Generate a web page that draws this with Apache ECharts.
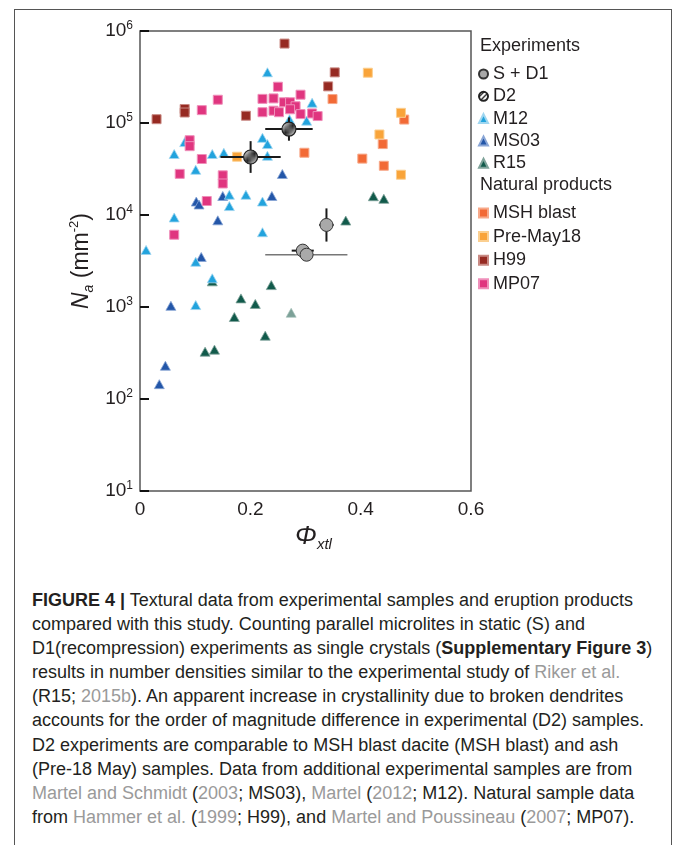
<!DOCTYPE html>
<html>
<head>
<meta charset="utf-8">
<script src="https://cdn.jsdelivr.net/npm/echarts@6/dist/echarts.min.js"></script>
<style>
  html, body { margin: 0; padding: 0; background: #fff; }
  body { width: 673px; height: 845px; position: relative; overflow: hidden; font-family: "Liberation Sans", Arial, sans-serif; }
  #frame { position: absolute; left: 14px; top: 9px; width: 658px; height: 900px; border: 1.5px solid #555; box-sizing: border-box; }
  #chart { position: absolute; left: 0; top: 0; width: 673px; height: 570px; }
  #caption { position: absolute; left: 32px; top: 588px; font-size: 18px; line-height: 24.1px; color: #231f20; white-space: nowrap; }
  #caption b { font-weight: bold; }
  #caption .ref { color: #9a9a9a; }
</style>
</head>
<body>
<div id="frame"></div>
<div id="chart"></div>
<div id="caption">
<div><b>FIGURE 4 |</b> Textural data from experimental samples and eruption products</div>
<div>compared with this study. Counting parallel microlites in static (S) and</div>
<div>D1(recompression) experiments as single crystals (<b>Supplementary Figure 3</b>)</div>
<div>results in number densities similar to the experimental study of <span class="ref">Riker et al.</span></div>
<div>(R15; <span class="ref">2015b</span>). An apparent increase in crystallinity due to broken dendrites</div>
<div>accounts for the order of magnitude difference in experimental (D2) samples.</div>
<div>D2 experiments are comparable to MSH blast dacite (MSH blast) and ash</div>
<div>(Pre-18 May) samples. Data from additional experimental samples are from</div>
<div><span class="ref">Martel and Schmidt</span> (<span class="ref">2003</span>; MS03), <span class="ref">Martel</span> (<span class="ref">2012</span>; M12). Natural sample data</div>
<div>from <span class="ref">Hammer et al.</span> (<span class="ref">1999</span>; H99), and <span class="ref">Martel and Poussineau</span> (<span class="ref">2007</span>; MP07).</div>
</div>
<script>
// crystallinity (x) vs number density N_a in mm^-2 (y)
const sd1 = [[0.338, 7.8e3], [0.295, 4.1e3], [0.302, 3.7e3]]
const d2 = [[0.270, 8.6e4], [0.2005, 4.27e4]]
const m12 = [[0.231, 3.56e5], [0.312, 1.66e5], [0.302, 1.06e5], [0.271, 1.1e5], [0.081, 6.2e4],
  [0.062, 4.6e4], [0.131, 4.6e4], [0.152, 4.74e4], [0.101, 3.1e4], [0.222, 6.9e4], [0.231, 5.9e4],
  [0.231, 4.4e4], [0.162, 1.66e4], [0.192, 1.66e4], [0.222, 1.4e4], [0.162, 1.25e4], [0.062, 9.4e3],
  [0.222, 6.5e3], [0.011, 4.17e3], [0.101, 3.1e3], [0.131, 2.05e3], [0.101, 1.05e3]]
const ms03 = [[0.258, 2.79e4], [0.102, 1.4e4], [0.107, 1.3e4], [0.150, 1.61e4], [0.239, 1.61e4],
  [0.141, 8.75e3], [0.111, 3.5e3], [0.056, 1.03e3], [0.046, 230], [0.035, 145]]
const r15 = [[0.131, 1.9e3], [0.238, 1.73e3], [0.183, 1.24e3], [0.209, 1.08e3], [0.171, 778],
  [0.227, 488], [0.118, 327], [0.135, 344], [0.373, 8.7e3], [0.423, 1.6e4], [0.442, 1.5e4]]
const r15Faded = [[0.274, 866]]
const mshBlast = [[0.349, 1.82e5], [0.479, 1.09e5], [0.440, 5.9e4], [0.403, 4.1e4], [0.442, 3.43e4], [0.298, 4.75e4]]
const preMay18 = [[0.413, 3.52e5], [0.473, 1.29e5], [0.434, 7.5e4], [0.473, 2.74e4], [0.176, 4.3e4]]
const h99 = [[0.030, 1.1e5], [0.081, 1.42e5], [0.081, 1.3e5], [0.192, 1.2e5], [0.262, 7.3e5], [0.341, 2.5e5], [0.353, 3.55e5]]
const mp07 = [[0.141, 1.79e5], [0.112, 1.38e5], [0.090, 6.5e4], [0.090, 5.6e4], [0.112, 4.06e4], [0.072, 2.8e4],
  [0.150, 2.7e4], [0.150, 2.2e4], [0.121, 1.42e4], [0.062, 6.1e3], [0.250, 2.48e5], [0.222, 1.83e5],
  [0.242, 1.85e5], [0.222, 1.31e5], [0.242, 1.36e5], [0.252, 1.31e5], [0.261, 1.68e5], [0.272, 1.68e5],
  [0.282, 1.52e5], [0.272, 1.41e5], [0.291, 2.03e5], [0.291, 1.25e5], [0.312, 1.27e5], [0.322, 1.19e5]]

// error bars: [x, y, xLow, xHigh, yLow, yHigh]
const sd1Err = [[0.338, 7.8e3, 0.325, 0.351, 5.14e3, 1.18e4], [0.295, 4.1e3, 0.275, 0.315, 4.1e3, 4.1e3]]
const sd1WideErr = [[0.302, 3.7e3, 0.227, 0.376, 3.7e3, 3.7e3]]
const d2Err = [[0.270, 8.6e4, 0.227, 0.313, 6.42e4, 1.15e5], [0.2005, 4.27e4, 0.146, 0.255, 2.87e4, 6.35e4]]

const xTicks = [0, 0.2, 0.4, 0.6]
const experiments = ['S + D1', 'D2', 'M12', 'MS03', 'R15']
const naturals = ['MSH blast', 'Pre-May18', 'H99', 'MP07']

const FONT = '"Liberation Sans", Arial, sans-serif'

// diagonal hatch for D2
const hatch = document.createElement('canvas')
hatch.width = 5
hatch.height = 5
const hctx = hatch.getContext('2d')
hctx.fillStyle = '#fff'
hctx.fillRect(0, 0, 5, 5)
hctx.strokeStyle = '#222'
hctx.lineWidth = 1.3
hctx.beginPath()
hctx.moveTo(-1, 6); hctx.lineTo(6, -1)
hctx.moveTo(-1, 1); hctx.lineTo(1, -1)
hctx.moveTo(4, 6); hctx.lineTo(6, 4)
hctx.stroke()

function errorSeries(data, color, width) {
  return {
    type: 'custom',
    data: data,
    z: 3,
    silent: true,
    encode: { x: [0, 2, 3], y: [1, 4, 5] },
    renderItem(params, api) {
      const x = api.value(0), y = api.value(1)
      const l = api.coord([api.value(2), y])
      const r = api.coord([api.value(3), y])
      const b = api.coord([x, api.value(4)])
      const t = api.coord([x, api.value(5)])
      const style = { stroke: color, lineWidth: width }
      const children = [{ type: 'line', shape: { x1: l[0], y1: l[1], x2: r[0], y2: r[1] }, style }]
      if (t[1] !== b[1]) children.push({ type: 'line', shape: { x1: b[0], y1: b[1], x2: t[0], y2: t[1] }, style })
      return { type: 'group', children }
    }
  }
}

function squares(name, data, fill, edge) {
  return {
    name, type: 'scatter', data, symbol: 'rect', symbolSize: 9, z: 2,
    itemStyle: { color: fill, borderColor: edge, borderWidth: 1, opacity: 1 }
  }
}
function triangles(name, data, fill, edge) {
  return {
    name, type: 'scatter', data, symbol: 'triangle', symbolSize: [10, 9], z: 2,
    itemStyle: { color: fill, borderColor: edge, borderWidth: 0.8, opacity: 1 }
  }
}

const legendBase = {
  orient: 'vertical', left: 478, padding: 0,
  itemWidth: 9, itemHeight: 9, itemGap: 4.3,
  textStyle: { fontSize: 18, lineHeight: 18, color: '#231f20', fontFamily: FONT },
  selectedMode: false
}

const chart = echarts.init(document.getElementById('chart'), null, { renderer: 'canvas' })
chart.setOption({
  animation: false,
  textStyle: { fontFamily: FONT },
  grid: {
    left: 140, right: 202, top: 31, bottom: 79,
    show: true, borderColor: '#555', borderWidth: 1.5
  },
  xAxis: {
    type: 'value', min: 0, max: 0.6, interval: 0.2,
    axisLine: { show: false }, axisTick: { show: false }, splitLine: { show: false },
    axisLabel: {
      margin: 9, color: '#231f20', fontSize: 19, fontFamily: FONT,
      customValues: xTicks, formatter: v => String(v)
    },
    name: '{p|Φ}{s|xtl}',
    nameLocation: 'middle',
    nameGap: 29,
    nameTextStyle: {
      padding: [0, 0, 0, 16],
      rich: {
        p: { fontSize: 26, fontStyle: 'italic', fontFamily: FONT, color: '#231f20', lineHeight: 30 },
        s: { fontSize: 15, fontStyle: 'italic', fontFamily: FONT, color: '#231f20', lineHeight: 14, verticalAlign: 'bottom' }
      }
    }
  },
  yAxis: {
    type: 'log', logBase: 10, min: 10, max: 1e6,
    axisLine: { show: false }, splitLine: { show: false },
    axisTick: { show: true, inside: true, length: 9, lineStyle: { color: '#111', width: 2 } },
    axisLabel: {
      margin: 7, fontFamily: FONT,
      formatter: v => '{b|10}{e|' + Math.round(Math.log10(v)) + '}',
      rich: {
        b: { fontSize: 19, color: '#231f20', lineHeight: 22 },
        e: { fontSize: 12, color: '#231f20', lineHeight: 12, verticalAlign: 'top' }
      }
    },
    name: '{n|N}{a|a}{t| (mm}{e|-2}{t|)}',
    nameLocation: 'middle',
    nameGap: 44,
    nameRotate: 90,
    nameTextStyle: {
      rich: {
        n: { fontSize: 23, fontStyle: 'italic', fontFamily: FONT, color: '#231f20', lineHeight: 28 },
        a: { fontSize: 14, fontStyle: 'italic', fontFamily: FONT, color: '#231f20', lineHeight: 14, verticalAlign: 'bottom' },
        t: { fontSize: 23, fontFamily: FONT, color: '#231f20', lineHeight: 28 },
        e: { fontSize: 13, fontFamily: FONT, color: '#231f20', lineHeight: 13, verticalAlign: 'top' }
      }
    }
  },
  legend: [
    Object.assign({}, legendBase, { data: experiments.map(n => ({ name: n })), top: 65 }),
    Object.assign({}, legendBase, { data: naturals.map(n => ({ name: n })), top: 204, itemGap: 5.6 })
  ],
  graphic: [
    { type: 'text', left: 480, top: 37, style: { text: 'Experiments', fontSize: 18, fontFamily: FONT, fill: '#231f20' } },
    { type: 'text', left: 480, top: 176, style: { text: 'Natural products', fontSize: 18, fontFamily: FONT, fill: '#231f20' } }
  ],
  series: [
    triangles('R15', r15, '#115a4b', '#7fa39a'),
    {
      name: 'R15', type: 'scatter', data: r15Faded, symbol: 'triangle', symbolSize: [10, 9], z: 2,
      itemStyle: { color: '#5c8a7e', borderColor: '#a3bfb7', borderWidth: 0.8 }
    },
    triangles('MS03', ms03, '#2356a8', '#8aa6d6'),
    triangles('M12', m12, '#22a3dd', '#9fd6f0'),
    squares('MP07', mp07, '#e0357f', '#ef8fba'),
    squares('H99', h99, '#962a22', '#c98a84'),
    squares('MSH blast', mshBlast, '#f26a36', '#f7a98a'),
    squares('Pre-May18', preMay18, '#f9a43a', '#fbcf90'),
    errorSeries(sd1WideErr, '#777', 1.5),
    errorSeries(sd1Err, '#1a1a1a', 2),
    errorSeries(d2Err, '#1a1a1a', 2),
    {
      name: 'S + D1', type: 'scatter', data: sd1, symbol: 'circle', symbolSize: 13, z: 4,
      itemStyle: { color: '#a9a9a9', borderColor: '#333', borderWidth: 1, opacity: 1 }
    },
    {
      name: 'D2', type: 'scatter', data: d2, symbol: 'circle', symbolSize: 14, z: 4,
      itemStyle: { color: { image: hatch, repeat: 'repeat' }, borderColor: '#222', borderWidth: 1.2, opacity: 1 }
    }
  ]
})
</script>
</body>
</html>
